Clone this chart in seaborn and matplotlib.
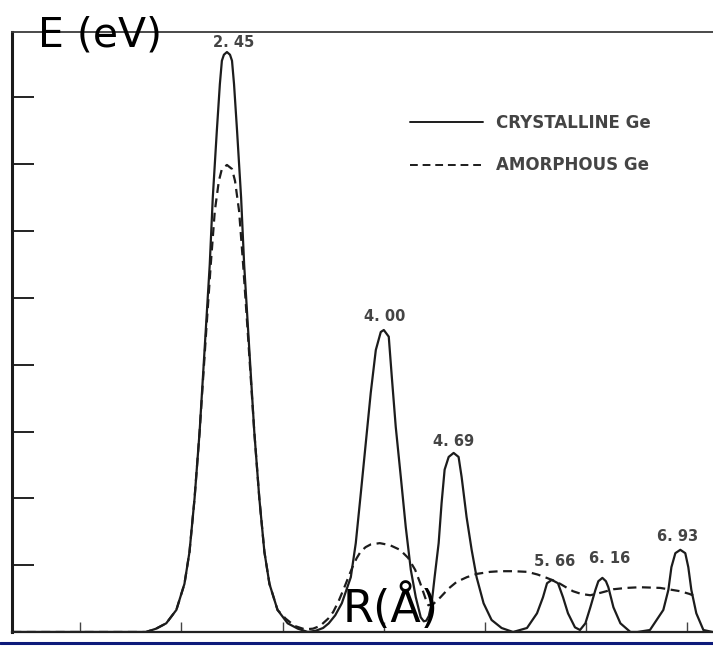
import matplotlib
matplotlib.use("Agg")
import matplotlib.pyplot as plt
from matplotlib.lines import Line2D
import pandas as pd
import seaborn as sns

# Radial distribution curves, R in angstrom, E in eV
crystalline_r = [
    0.33, 1.65, 1.75, 1.85, 1.95, 2.03, 2.08, 2.13, 2.18, 2.24, 2.28, 2.31, 2.35, 2.38, 2.40, 2.42,
    2.45, 2.48, 2.50, 2.52, 2.55, 2.59, 2.62, 2.66, 2.72, 2.77, 2.82, 2.87, 2.95, 3.05, 3.15, 3.25,
    3.33, 3.40, 3.456, 3.52, 3.585, 3.674, 3.723, 3.773, 3.822, 3.871, 3.921, 3.970, 4.00, 4.049,
    4.079, 4.118, 4.168, 4.217, 4.267, 4.316, 4.365, 4.395, 4.42, 4.445,
    4.473, 4.502, 4.542, 4.571, 4.601, 4.641, 4.69, 4.739, 4.769, 4.818, 4.868, 4.917, 4.986, 5.065,
    5.164, 5.277,
    5.415, 5.514, 5.573, 5.613, 5.66, 5.721, 5.771, 5.820, 5.889, 5.939,
    5.992, 6.041, 6.091, 6.12, 6.16, 6.195, 6.219, 6.269, 6.338, 6.437, 6.506, 6.63,
    6.762, 6.812, 6.842, 6.881, 6.93, 6.979, 7.009, 7.039, 7.088, 7.158, 7.25,
]
crystalline_g = [
    0, 0, 0.05, 0.13, 0.33, 0.72, 1.2, 2.0, 3.0, 4.5, 5.5, 6.5, 7.5, 8.2, 8.55, 8.64,
    8.68, 8.64, 8.55, 8.2, 7.5, 6.5, 5.5, 4.5, 3.0, 2.0, 1.2, 0.72, 0.33, 0.13, 0.05, 0.0,
    0.02, 0.06, 0.13, 0.25, 0.43, 0.82, 1.33, 2.08, 2.83, 3.58, 4.22, 4.49, 4.52, 4.42,
    3.82, 3.07, 2.32, 1.57, 0.93, 0.52, 0.22, 0.16, 0.17, 0.24,
    0.43, 0.82, 1.33, 1.93, 2.43, 2.62, 2.68, 2.62, 2.32, 1.72, 1.23, 0.82, 0.43, 0.18,
    0.06, 0.0,
    0.06, 0.28, 0.52, 0.73, 0.78, 0.73, 0.52, 0.28, 0.07, 0.03,
    0.13, 0.37, 0.63, 0.76, 0.81, 0.76, 0.67, 0.37, 0.13, 0.0, 0.0, 0.03,
    0.33, 0.63, 0.97, 1.18, 1.23, 1.18, 0.97, 0.63, 0.28, 0.03, 0.0,
]
amorphous_r = [
    0.33, 1.65, 1.75, 1.85, 1.95, 2.03, 2.08, 2.13, 2.18, 2.245, 2.29, 2.33, 2.37, 2.40, 2.45,
    2.50, 2.53, 2.57, 2.61, 2.655, 2.72, 2.77, 2.82, 2.87, 2.95, 3.03, 3.12, 3.22, 3.30, 3.37,
    3.45, 3.50, 3.55, 3.60, 3.65, 3.69, 3.73, 3.77, 3.82, 3.87, 3.96, 4.06, 4.16, 4.24, 4.31,
    4.36, 4.41, 4.44, 4.49, 4.56, 4.64, 4.72, 4.82, 4.92, 5.05, 5.15, 5.28, 5.42, 5.52, 5.61,
    5.71, 5.80, 5.87, 5.95, 6.04, 6.15, 6.27, 6.40, 6.53, 6.73, 6.93, 7.02, 7.10,
]
amorphous_g = [
    0, 0, 0.05, 0.13, 0.33, 0.72, 1.2, 2.0, 3.0, 4.5, 5.5, 6.3, 6.75, 6.93, 6.99,
    6.93, 6.75, 6.3, 5.5, 4.5, 3.0, 2.0, 1.2, 0.72, 0.33, 0.2, 0.09, 0.04, 0.05, 0.09,
    0.2, 0.30, 0.45, 0.63, 0.82, 0.97, 1.10, 1.20, 1.27, 1.31, 1.33, 1.30, 1.23, 1.11, 0.93,
    0.73, 0.51, 0.40, 0.42, 0.52, 0.65, 0.75, 0.82, 0.87, 0.90, 0.91, 0.91, 0.90, 0.86, 0.81,
    0.75, 0.67, 0.61, 0.57, 0.55, 0.59, 0.64, 0.66, 0.67, 0.66, 0.61, 0.57, 0.52,
]
series_names = ["CRYSTALLINE Ge", "AMORPHOUS Ge"]

# Neighbour-shell distances marked above the crystalline peaks
peak_r = [2.45, 4.00, 4.69, 5.66, 6.16, 6.93]
peak_text = ["2. 45", "4. 00", "4. 69", "5. 66", "6. 16", "6. 93"]
label_offsets_px = [(7, 10), (1, 13), (0, 11), (3, 18), (7, 19), (-3, 13)]

r_ticks = [1, 2, 3, 4, 5, 6, 7]
g_ticks = [1, 2, 3, 4, 5, 6, 7, 8]

W, H = 713, 647
sns.set_style("white")
plt.rcParams["font.family"] = ["DejaVu Sans"]

fig = plt.figure(figsize=(W / 100, H / 100), dpi=100)
ax = fig.add_axes([12 / W, 15 / H, 1 - 12 / W, 600 / H])

df = pd.concat([
    pd.DataFrame({"R": crystalline_r, "g": crystalline_g, "series": series_names[0]}),
    pd.DataFrame({"R": amorphous_r, "g": amorphous_g, "series": series_names[1]}),
], ignore_index=True)

ink = "#1c1c1c"
sns.lineplot(data=df, x="R", y="g", style="series", style_order=series_names,
             dashes={series_names[0]: "", series_names[1]: (4, 2.5)},
             color=ink, linewidth=1.6, sort=False, estimator=None, ax=ax)

ax.set_xlim(0.326, 7.253)
ax.set_ylim(0, 8.98)
ax.set_xlabel("")
ax.set_ylabel("")

ax.set_xticks(r_ticks)
ax.set_yticks(g_ticks)
ax.tick_params(axis="y", left=True, direction="in", length=16, width=1.4,
               color="#222222", labelleft=False)
ax.tick_params(axis="x", bottom=True, direction="in", length=7, width=1.0,
               color="#444444", labelbottom=False)

ax.spines["right"].set_visible(False)
ax.spines["left"].set_linewidth(2.2)
ax.spines["left"].set_color("#1a1a1a")
ax.spines["top"].set_linewidth(1.3)
ax.spines["top"].set_color("#3a3a3a")
ax.spines["bottom"].set_linewidth(1.6)
ax.spines["bottom"].set_color("#222222")

# Peak position labels
for r, txt, (dx, dy) in zip(peak_r, peak_text, label_offsets_px):
    g = crystalline_g[crystalline_r.index(r)]
    ax.annotate(txt, xy=(r, g), xytext=(dx, dy), textcoords="offset pixels",
                ha="center", va="center", fontsize=10.5, fontweight="bold",
                color="#444444")

# Legend
handles, labels = ax.get_legend_handles_labels()
if ax.get_legend() is not None:
    ax.get_legend().remove()
leg = ax.legend(handles, labels, loc="upper left",
                bbox_to_anchor=(410 / W, 1 - 114 / H), bbox_transform=fig.transFigure,
                frameon=False, prop={"size": 12, "weight": "bold"},
                handlelength=4.37, handletextpad=0.78,
                labelspacing=1.47, borderpad=0, borderaxespad=0)
for t in leg.get_texts():
    t.set_color("#444444")
for ln in leg.get_lines():
    ln.set_linewidth(1.4)

# Axis captions
fig.text(38 / W, 1 - 47 / H, "E (eV)", fontsize=29.5, ha="left", va="baseline",
         color="black", zorder=10)
fig.text(343 / W, 1 - 622 / H, "R(Å)", fontsize=32, ha="left", va="baseline",
         color="black", zorder=10)

# Rule under the plot
fig.add_artist(Line2D([0, 1], [1 - 643 / H] * 2, transform=fig.transFigure,
                      color="#0d1a7a", linewidth=2.2))

fig.savefig("out.png", dpi=100)
